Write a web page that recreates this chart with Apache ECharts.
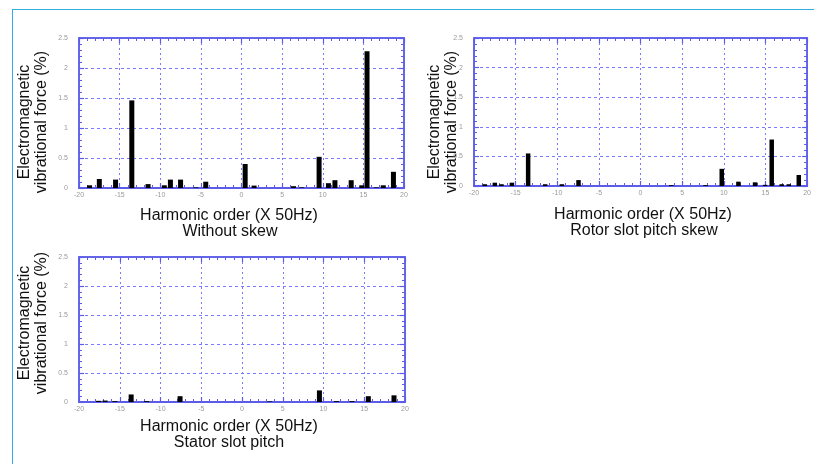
<!DOCTYPE html>
<html>
<head>
<meta charset="utf-8">
<script src="https://cdn.jsdelivr.net/npm/echarts@6/dist/echarts.min.js"></script>
<style>
html,body{margin:0;padding:0;background:#fff;}
#wrap{position:relative;width:814px;height:464px;overflow:hidden;}
#frame{position:absolute;left:12px;top:9px;width:820px;height:470px;border-left:1.5px solid #33aee0;border-top:1.5px solid #33aee0;box-sizing:border-box;pointer-events:none;}
#chart{position:absolute;left:0;top:0;width:814px;height:464px;}
</style>
</head>
<body>
<div id="wrap"><div id="chart"></div><div id="frame"></div></div>
<script>
// Harmonic order positions and vibrational force values (%)
const harm1 = [-18.7, -17.5, -15.5, -13.5, -11.5, -9.5, -8.75, -7.5, -5.6, -4.4, 0.45, 1.55, 6.4, 7.4, 9.55, 10.7, 11.5, 13.5, 14.8, 15.45, 16.6, 17.45, 18.7];
const force1 = [0.045, 0.15, 0.14, 1.46, 0.065, 0.045, 0.14, 0.14, 0.01, 0.105, 0.40, 0.04, 0.03, 0.01, 0.52, 0.08, 0.13, 0.13, 0.045, 2.28, 0.01, 0.045, 0.27];

const harm2 = [-18.7, -17.5, -16.7, -15.45, -13.5, -11.45, -9.45, -7.45, 3.7, 7.8, 9.75, 11.75, 13.75, 14.95, 15.75, 16.95, 17.8, 19.0];
const force2 = [0.03, 0.056, 0.03, 0.056, 0.55, 0.03, 0.03, 0.10, 0.015, 0.015, 0.29, 0.073, 0.062, 0.02, 0.785, 0.03, 0.03, 0.186];

const harm3 = [-17.6, -16.8, -15.6, -13.6, -11.7, -7.6, 3.4, 9.5, 11.6, 13.5, 15.5, 18.65];
const force3 = [0.02, 0.025, 0.015, 0.13, 0.015, 0.10, 0.01, 0.20, 0.015, 0.015, 0.10, 0.115];

const xTicks = [-20, -15, -10, -5, 0, 5, 10, 15, 20];
const yTicks = [0, 0.5, 1, 1.5, 2, 2.5];

const yTitle = 'Electromagnetic\nvibrational force (%)';
const xTitle = 'Harmonic order (X 50Hz)';
const subTitles = ['Without skew', 'Rotor slot pitch skew', 'Stator slot pitch'];

const panels = [
  {h: harm1, v: force1, grid: {left: 79, top: 38, width: 325, height: 150}, bw: 5},
  {h: harm2, v: force2, grid: {left: 474, top: 38, width: 336, height: 148}, bw: 4.5},
  {h: harm3, v: force3, grid: {left: 79, top: 257, width: 326, height: 145}, bw: 5}
];

const BLUE = '#5c5ce8';
const GRIDC = '#7a7aff';
const FONT = '"Liberation Sans", Arial, sans-serif';

const grids = [], xAxes = [], yAxes = [], series = [];
panels.forEach((p, i) => {
  grids.push(Object.assign({show: true, borderColor: BLUE, borderWidth: 1.5}, p.grid));
  const tick = () => ({show: true, inside: true, length: 5, lineStyle: {color: BLUE, width: 1.2}});
  const minor = () => ({show: true, splitNumber: 5, length: 3, lineStyle: {color: BLUE, width: 1}});
  const line = w => ({show: true, onZero: false, lineStyle: {color: BLUE, width: w}});
  const xBase = {gridIndex: i, type: 'value', min: xTicks[0], max: xTicks[xTicks.length - 1], interval: 5};
  const yBase = {gridIndex: i, type: 'value', min: yTicks[0], max: yTicks[yTicks.length - 1], interval: 0.5};
  xAxes.push(Object.assign({}, xBase, {
    position: 'bottom', axisLine: line(2), axisTick: tick(), minorTick: minor(),
    axisLabel: {show: true, fontSize: 7, color: '#9a9a9a', margin: 4, fontFamily: FONT,
      formatter: v => String(v)},
    splitLine: {show: true, lineStyle: {color: GRIDC, type: [2, 3], width: 1}}
  }));
  xAxes.push(Object.assign({}, xBase, {
    position: 'top', axisLine: line(1.5), axisTick: tick(), minorTick: minor(),
    axisLabel: {show: false}, splitLine: {show: false}
  }));
  yAxes.push(Object.assign({}, yBase, {
    position: 'left', axisLine: line(1.5), axisTick: tick(), minorTick: minor(),
    axisLabel: {show: true, fontSize: 7, color: '#9a9a9a', margin: 11, fontFamily: FONT,
      formatter: v => String(v)},
    splitLine: {show: true, lineStyle: {color: GRIDC, type: [3, 3], width: 1}}
  }));
  yAxes.push(Object.assign({}, yBase, {
    position: 'right', axisLine: line(1.5), axisTick: tick(), minorTick: minor(),
    axisLabel: {show: false}, splitLine: {show: false}
  }));
  series.push({
    type: 'bar', xAxisIndex: i * 2, yAxisIndex: i * 2, barWidth: p.bw,
    itemStyle: {color: '#000'}, silent: true,
    data: p.h.map((x, k) => [x, p.v[k]])
  });
});

const txt = (x, y, text, rot) => ({
  type: 'text', x: x, y: y, rotation: rot || 0, silent: true, z: -1,
  style: {text: text, fontSize: 16, fontFamily: FONT, fill: '#111', align: 'center',
    verticalAlign: 'middle', lineHeight: 17}
});

const graphics = [
  txt(33, 122, yTitle, Math.PI / 2),
  txt(443, 122, yTitle, Math.PI / 2),
  txt(33, 323, yTitle, Math.PI / 2),
  txt(229, 216, xTitle), txt(230, 232, subTitles[0]),
  txt(643, 215, xTitle), txt(644, 231, subTitles[1]),
  txt(229, 427, xTitle), txt(229, 443, subTitles[2])
];

const chart = echarts.init(document.getElementById('chart'), null, {renderer: 'canvas'});
chart.setOption({
  animation: false,
  backgroundColor: '#fff',
  grid: grids, xAxis: xAxes, yAxis: yAxes, series: series,
  graphic: graphics
});
</script>
</body>
</html>
